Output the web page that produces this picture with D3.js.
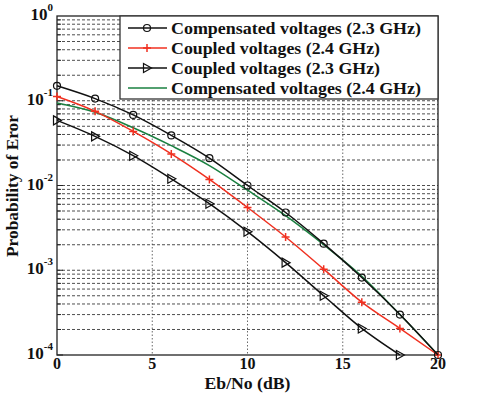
<!DOCTYPE html>
<html>
<head>
<meta charset="utf-8">
<script src="https://cdn.jsdelivr.net/npm/d3@7"></script>
<style>
  body { margin: 0; background: #fff; }
  text { font-family: "Liberation Serif", "Times New Roman", serif; font-weight: bold; fill: #111; }
</style>
</head>
<body>
<div id="chart"></div>
<script>
// Eb/No values (dB)
var snr = [0, 2, 4, 6, 8, 10, 12, 14, 16, 18, 20];
var snrTri = [0, 2, 4, 6, 8, 10, 12, 14, 16, 18];

var comp23 = [0.15, 0.106, 0.068, 0.039, 0.021, 0.0100, 0.0048, 0.00206, 0.00082, 0.0003, 0.0001];
var coup24 = [0.112, 0.075, 0.0435, 0.0236, 0.0118, 0.0055, 0.00247, 0.00103, 0.00042, 0.000206, 0.0001];
var coup23 = [0.0587, 0.038, 0.0225, 0.012, 0.0061, 0.00285, 0.00123, 0.0005, 0.000206, 0.0001];
var comp24 = [0.094, 0.073, 0.048, 0.0295, 0.0172, 0.0088, 0.0044, 0.002, 0.00085, 0.0003, 0.0001];

var xTicks = [0, 5, 10, 15, 20];
var yTicks = [-4, -3, -2, -1, 0];

var legendLabels = [
  "Compensated voltages (2.3 GHz)",
  "Coupled voltages (2.4 GHz)",
  "Coupled voltages (2.3 GHz)",
  "Compensated voltages (2.4 GHz)"
];
var legendWidths = [250, 209, 209, 250];

var margin = {top: 16, right: 57, bottom: 47, left: 57},
    width = 495 - margin.left - margin.right,
    height = 402 - margin.top - margin.bottom;

var svg = d3.select("#chart")
    .append("svg")
        .attr("width", 495)
        .attr("height", 402)
    .append("g")
        .attr("transform", "translate(" + margin.left + "," + margin.top + ")");

var x = d3.scaleLinear().domain([0, 20]).range([0, width]);
var y = d3.scaleLog().domain([1e-4, 1]).range([height, 0]);

// horizontal grid, dashed, at every minor value
var minor = [];
for (var e = -4; e < 0; e++) {
  for (var m = 1; m <= 9; m++) minor.push(m * Math.pow(10, e));
}
svg.selectAll(".hgrid")
    .data(minor.filter(function(v) { return v > 1e-4; }))
    .enter().append("line")
        .attr("x1", 0).attr("x2", width)
        .attr("y1", function(d) { return y(d); })
        .attr("y2", function(d) { return y(d); })
        .attr("stroke", "#222")
        .attr("stroke-width", 0.8)
        .attr("stroke-dasharray", "3,2");

// vertical grid, dotted
svg.selectAll(".vgrid")
    .data([5, 10, 15])
    .enter().append("line")
        .attr("x1", function(d) { return x(d); })
        .attr("x2", function(d) { return x(d); })
        .attr("y1", 0).attr("y2", height)
        .attr("stroke", "#444")
        .attr("stroke-width", 0.8)
        .attr("stroke-dasharray", "1.5,2");

// frame
svg.append("rect")
    .attr("width", width).attr("height", height)
    .attr("fill", "none").attr("stroke", "#222").attr("stroke-width", 1.3);

// minor ticks on left axis
svg.selectAll(".ytick")
    .data(minor)
    .enter().append("line")
        .attr("x1", 0).attr("x2", function(d) { return Math.abs(Math.log10(d) - Math.round(Math.log10(d))) < 1e-9 ? 6 : 4; })
        .attr("y1", function(d) { return y(d); })
        .attr("y2", function(d) { return y(d); })
        .attr("stroke", "#222");

// x tick labels
svg.selectAll(".xlab")
    .data(xTicks)
    .enter().append("text")
        .attr("x", function(d) { return x(d); })
        .attr("y", height + 14)
        .attr("text-anchor", "middle")
        .style("font-size", "16px")
        .text(function(d) { return d; });

// y tick labels 10^k
var yl = svg.selectAll(".ylab")
    .data(yTicks)
    .enter().append("text")
        .attr("x", -4)
        .attr("y", function(d) { return y(Math.pow(10, d)) + 4; })
        .attr("text-anchor", "end")
        .style("font-size", "17px");
yl.append("tspan").text("10");
yl.append("tspan")
    .attr("dy", -9)
    .style("font-size", "11px")
    .text(function(d) { return d; });

// axis titles
svg.append("text")
    .attr("x", width / 2)
    .attr("y", height + 34)
    .attr("text-anchor", "middle")
    .attr("textLength", 86)
    .attr("lengthAdjust", "spacingAndGlyphs")
    .style("font-size", "16px")
    .text("Eb/No (dB)");

svg.append("text")
    .attr("transform", "translate(" + (-39) + "," + (186 - margin.top) + ") rotate(-90)")
    .attr("text-anchor", "middle")
    .attr("textLength", 142)
    .attr("lengthAdjust", "spacingAndGlyphs")
    .style("font-size", "17px")
    .text("Probability of Eror");

var line = d3.line()
    .x(function(d) { return x(d[0]); })
    .y(function(d) { return y(d[1]); })
    .curve(d3.curveMonotoneX);

var series = [
  {xs: snr, ys: comp23, color: "#111", marker: "circle"},
  {xs: snr, ys: coup24, color: "#f03020", marker: "plus"},
  {xs: snrTri, ys: coup23, color: "#111", marker: "tri"},
  {xs: snr, ys: comp24, color: "#1a8040", marker: "none"}
];

function drawMarker(g, type, color) {
  if (type === "circle") {
    g.append("circle").attr("r", 3.5).attr("fill", "none")
        .attr("stroke", color).attr("stroke-width", 1.2);
  } else if (type === "plus") {
    g.append("path").attr("d", "M-4,0H4M0,-4V4")
        .attr("stroke", color).attr("stroke-width", 1.5);
  } else if (type === "tri") {
    g.append("path").attr("d", "M-3.5,-4.5L4.5,0L-3.5,4.5Z")
        .attr("fill", "none").attr("stroke", color).attr("stroke-width", 1.2);
  }
}

var order = [3, 1, 2, 0];
order.forEach(function(i) {
  var s = series[i];
  var pts = s.xs.map(function(v, k) { return [v, s.ys[k]]; });
  svg.append("path")
      .datum(pts)
      .attr("d", line)
      .attr("fill", "none")
      .attr("stroke", s.color)
      .attr("stroke-width", 1.5);
  pts.forEach(function(p) {
    var g = svg.append("g")
        .attr("transform", "translate(" + x(p[0]) + "," + y(p[1]) + ")");
    drawMarker(g, s.marker, s.color);
  });
});

// legend
var lg = svg.append("g").attr("transform", "translate(" + (120 - margin.left) + ",0)");
lg.append("rect")
    .attr("width", 438 - 120).attr("height", 83)
    .attr("fill", "#fff").attr("stroke", "#333").attr("stroke-width", 1.3);

series.forEach(function(s, i) {
  var row = lg.append("g").attr("transform", "translate(0," + (12 + i * 20) + ")");
  row.append("line")
      .attr("x1", 8).attr("x2", 47)
      .attr("stroke", s.color).attr("stroke-width", 1.5);
  var mg = row.append("g").attr("transform", "translate(27,0)");
  drawMarker(mg, s.marker, s.color);
  row.append("text")
      .attr("x", 51)
      .attr("y", 6)
      .attr("textLength", legendWidths[i])
      .attr("lengthAdjust", "spacingAndGlyphs")
      .style("font-size", "17px")
      .text(legendLabels[i]);
});
</script>
</body>
</html>
